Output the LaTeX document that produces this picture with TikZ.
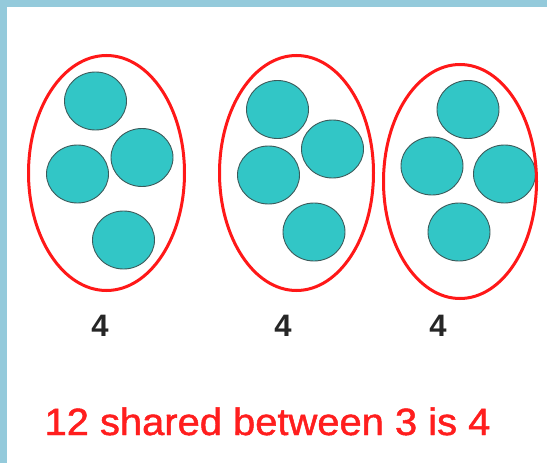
\documentclass[tikz,border=0pt]{standalone}
\usepackage{fontspec}
\setmainfont{Liberation Sans}
\newfontfamily\capfont[FakeBold=1.2]{Liberation Sans}
\usetikzlibrary{shapes.geometric}
\definecolor{framebl}{RGB}{148,202,219}
\definecolor{tealfill}{RGB}{50,198,198}
\definecolor{tealline}{RGB}{60,90,90}
\definecolor{grpred}{RGB}{255,24,24}
\definecolor{txtred}{RGB}{255,30,30}
\tikzset{
  counter/.style={ellipse, minimum width=62pt, minimum height=58pt, inner sep=0pt,
    fill=tealfill, draw=tealline, line width=0.9pt},
  group/.style={ellipse, inner sep=0pt, draw=grpred, line width=3pt},
  numlabel/.style={anchor=base, font=\fontsize{31}{31}\selectfont\bfseries, text=black!85, inner sep=0pt},
  caption/.style={anchor=base, font=\fontsize{38}{38}\capfont, text=txtred, inner sep=0pt}
}
\begin{document}
\begin{tikzpicture}[x=1pt,y=-1pt]
\useasboundingbox (0,0) rectangle (547,463);
\fill[white] (0,0) rectangle (547,463);
\fill[framebl] (0,0) rectangle (547,7);
\fill[framebl] (0,0) rectangle (7,463);
% group 1
\node[counter] (a1) at (95.5,101) {};
\node[counter] (a2) at (77.5,174) {};
\node[counter] (a3) at (142,157.5) {};
\node[counter] (a4) at (123.5,240) {};
\node[group, minimum width=156pt, minimum height=235pt] (g1) at (106.5,173) {};
% group 2
\node[counter] (b1) at (277.5,109.5) {};
\node[counter] (b2) at (332.5,149) {};
\node[counter] (b3) at (268.5,175) {};
\node[counter] (b4) at (314,232) {};
\node[group, minimum width=154pt, minimum height=235pt] (g2) at (296.5,173) {};
% group 3
\node[counter] (c1) at (468,109.5) {};
\node[counter] (c2) at (432,166) {};
\node[counter] (c3) at (504.5,174) {};
\node[counter] (c4) at (459,232) {};
\node[group, minimum width=153pt, minimum height=234pt] (g3) at (460,181.5) {};
% labels
\node[numlabel] (n1) at (100,336) {4};
\node[numlabel] (n2) at (283,336) {4};
\node[numlabel] (n3) at (438,336) {4};
\node[caption] (cap) at (267.5,435) {\fontsize{38}{38}\selectfont\scalebox{1.05}[1]{12 shared between 3 is 4}};
\end{tikzpicture}
\end{document}
